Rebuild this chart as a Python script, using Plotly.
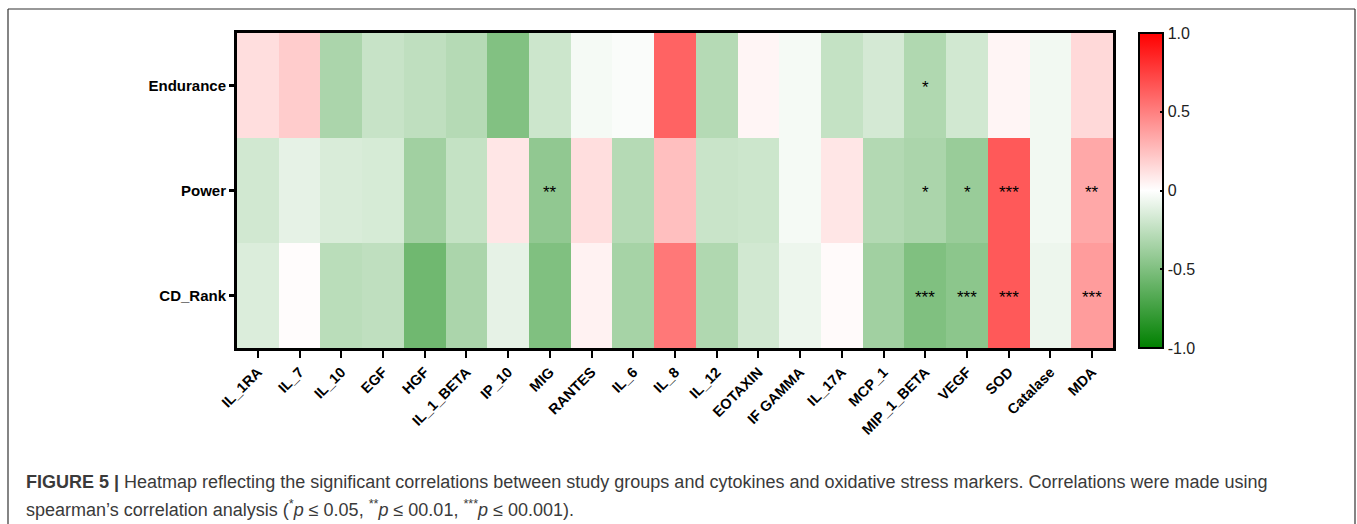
import plotly.graph_objects as go

markers = ["IL_1RA", "IL_7", "IL_10", "EGF", "HGF", "IL_1_BETA", "IP_10", "MIG", "RANTES",
           "IL_6", "IL_8", "IL_12", "EOTAXIN", "IF GAMMA", "IL_17A", "MCP_1", "MIP_1_BETA",
           "VEGF", "SOD", "Catalase", "MDA"]
groups = ["Endurance", "Power", "CD_Rank"]

endurance = [0.13, 0.20, -0.33, -0.22, -0.25, -0.29, -0.49, -0.20, -0.04, -0.02, 0.61,
             -0.29, 0.04, -0.04, -0.23, -0.17, -0.31, -0.18, 0.04, -0.05, 0.15]
power = [-0.18, -0.10, -0.15, -0.16, -0.37, -0.23, 0.10, -0.43, 0.13, -0.29, 0.25,
         -0.21, -0.20, -0.04, 0.10, -0.30, -0.33, -0.40, 0.65, -0.05, 0.34]
cd_rank = [-0.14, 0.01, -0.27, -0.25, -0.56, -0.33, -0.10, -0.50, 0.05, -0.35, 0.53,
           -0.31, -0.18, -0.07, 0.02, -0.37, -0.50, -0.45, 0.65, -0.07, 0.39]

sig_endurance = [""] * 16 + ["*", "", "", "", ""]
sig_power = ["", "", "", "", "", "", "", "**", "", "", "", "", "", "", "", "",
             "*", "*", "***", "", "**"]
sig_cd_rank = [""] * 16 + ["***", "***", "***", "", "***"]

cb_vals = [1.0, 0.5, 0, -0.5, -1.0]
cb_text = ["1.0", "0.5", "0", "-0.5", "-1.0"]

W, H = 1357, 524
ML, MR, MT, MB = 237, 244, 33, 176
PW, PH = W - ML - MR, H - MT - MB

def px_x(p):
    return (p - ML) / PW

def px_y(p):
    return (H - MB - p) / PH

fig = go.Figure(go.Heatmap(
    z=[endurance, power, cd_rank],
    x=markers,
    y=groups,
    colorscale=[[0, "rgb(0,128,0)"], [0.5, "rgb(255,255,255)"], [1, "rgb(255,0,0)"]],
    zmin=-1, zmax=1,
    xgap=0, ygap=0,
    hoverinfo="skip",
    colorbar=dict(
        x=px_x(1139), xanchor="left",
        y=0.5, yanchor="middle",
        thickness=24, thicknessmode="pixels",
        len=PH, lenmode="pixels",
        outlinewidth=2, outlinecolor="black",
        tickvals=cb_vals, ticktext=cb_text,
        ticks="inside", ticklen=4, tickwidth=2, tickcolor="black",
        tickfont=dict(family="Liberation Sans", size=16, color="#222"),
        xpad=0, ypad=0,
    ),
))

# significance stars
for g, row in zip(groups, [sig_endurance, sig_power, sig_cd_rank]):
    for m, s in zip(markers, row):
        if s:
            fig.add_annotation(x=m, y=g, text=s, showarrow=False, yshift=-2,
                               font=dict(family="Liberation Sans", size=17, color="black"))

fig.update_xaxes(
    tickangle=-45,
    tickfont=dict(family="Liberation Sans", size=14.5, color="black", weight="bold"),
    ticks="outside", ticklen=7, tickwidth=2, tickcolor="black",
    showline=True, linewidth=3, linecolor="black", mirror=True,
    showgrid=False, zeroline=False,
)
fig.update_yaxes(
    autorange="reversed",
    tickfont=dict(family="Liberation Sans", size=15, color="black", weight="bold"),
    ticks="outside", ticklen=5, tickwidth=2.5, tickcolor="black",
    showline=True, linewidth=3, linecolor="black", mirror=True,
    showgrid=False, zeroline=False,
)

# outer figure frame
frame = dict(type="line", xref="paper", yref="paper", line=dict(color="#333", width=1.2))
fig.add_shape(**frame, x0=px_x(8), x1=px_x(1355), y0=px_y(9), y1=px_y(9))
fig.add_shape(**frame, x0=px_x(8), x1=px_x(8), y0=px_y(9), y1=px_y(530))
fig.add_shape(**frame, x0=px_x(1355), x1=px_x(1355), y0=px_y(9), y1=px_y(530))

caption1 = ("<b>FIGURE 5 |</b> Heatmap reflecting the significant correlations between study groups "
            "and cytokines and oxidative stress markers. Correlations were made using")
caption2 = ("spearman’s correlation analysis (<sup>*</sup><i>p</i> ≤ 0.05, <sup>**</sup><i>p</i> ≤ 00.01, "
            "<sup>***</sup><i>p</i> ≤ 00.001).")
for txt, ypx in [(caption1, 482), (caption2, 508)]:
    fig.add_annotation(text=txt, xref="paper", yref="paper", x=px_x(24), y=px_y(ypx),
                       xanchor="left", yanchor="middle", showarrow=False,
                       font=dict(family="Liberation Sans", size=18, color="#3a3a3a"))

fig.update_layout(
    width=W, height=H,
    margin=dict(l=ML, r=MR, t=MT, b=MB),
    paper_bgcolor="white", plot_bgcolor="white",
)

fig.write_html("out.html")
